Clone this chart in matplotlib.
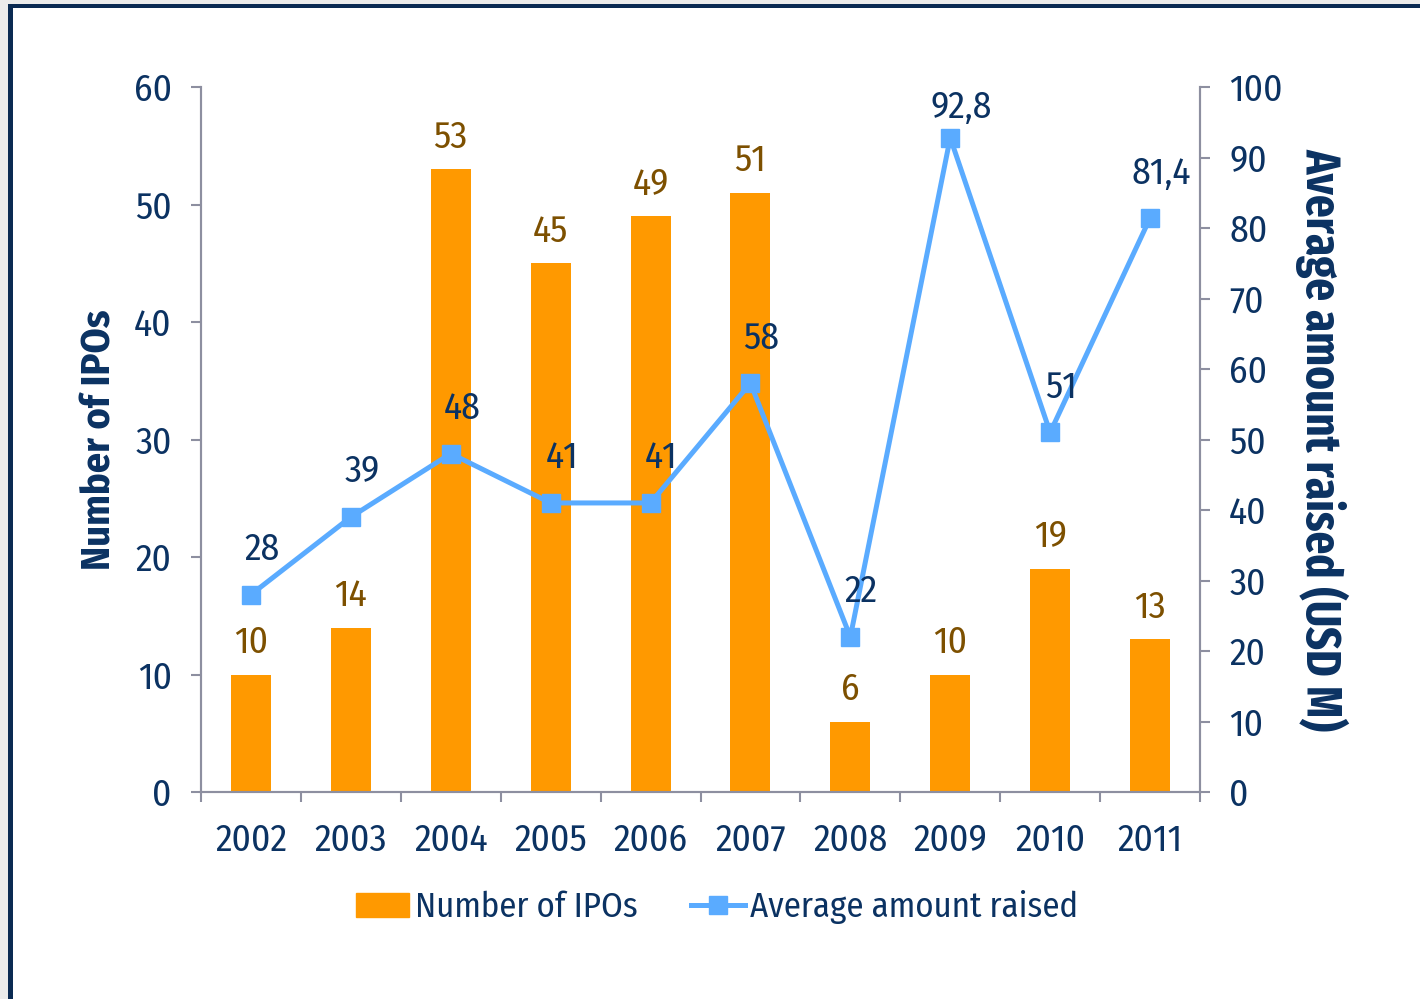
import matplotlib
matplotlib.use('Agg')
import matplotlib.pyplot as plt
from matplotlib.patches import Rectangle
from matplotlib.lines import Line2D
import numpy as np

years = ['2002', '2003', '2004', '2005', '2006', '2007', '2008', '2009', '2010', '2011']
ipos = [10, 14, 53, 45, 49, 51, 6, 10, 19, 13]
avg_raised = [28, 39, 48, 41, 41, 58, 22, 92.8, 51, 81.4]

navy = '#0b3262'
orange = '#ff9900'
blue = '#5aabff'
brown = '#7d5000'
grey = '#8d8fa0'

plt.rcParams['font.family'] = ['Fira Sans Condensed', 'DejaVu Sans']

fig = plt.figure(figsize=(14.2, 9.99), dpi=100)
fig.patch.set_facecolor('white')
W, H = 1420, 999
# outer frame: grey margin + navy border (left/top)
fig.add_artist(Rectangle((0, 0), 8 / W, 1, transform=fig.transFigure, color='#ebebeb', lw=0))
fig.add_artist(Rectangle((0, 1 - 4 / H), 1, 4 / H, transform=fig.transFigure, color='#ebebeb', lw=0))
fig.add_artist(Rectangle((8 / W, 0), 4.5 / W, 1 - 4 / H, transform=fig.transFigure, color='#0a2a52', lw=0))
fig.add_artist(Rectangle((8 / W, 1 - 7.5 / H), 1, 3.5 / H, transform=fig.transFigure, color='#0a2a52', lw=0))

ax = fig.add_axes([201 / W, 207 / H, 999 / W, 705 / H])
ax2 = ax.twinx()

x = np.arange(len(years))
ax.bar(x, ipos, width=0.4, color=orange, zorder=2)
ax.set_xlim(-0.5, len(years) - 0.5)
ax.set_ylim(0, 60)
ax.set_yticks(np.arange(0, 61, 10))
ax.set_xticks(x)
ax.set_xticklabels(years)
ax.set_xticks(np.arange(-0.5, len(years)), minor=True)

ax2.plot(x, avg_raised, color=blue, lw=3.6, marker='s', markersize=13, zorder=3)
ax2.set_ylim(0, 100)
ax2.set_yticks(np.arange(0, 101, 10))

for a in (ax, ax2):
    a.spines['top'].set_visible(False)
    for s in ('left', 'right', 'bottom'):
        a.spines[s].set_color(grey)
        a.spines[s].set_linewidth(1.5)

fs = 27
ax.tick_params(axis='y', colors=grey, labelcolor=navy, labelsize=fs, length=7, width=1.5, pad=14)
ax2.tick_params(axis='y', colors=grey, labelcolor=navy, labelsize=fs, length=7, width=1.5, pad=14)
ax.tick_params(axis='x', which='major', length=0, pad=22, labelcolor=navy, labelsize=fs)
ax.tick_params(axis='x', which='minor', length=7, width=1.5, color=grey)

for xi, v in zip(x, ipos):
    ax.annotate(str(v), (xi, v), xytext=(0, 32), textcoords='offset pixels',
                ha='center', va='center', fontsize=fs, color=brown)

for xi, v in zip(x, avg_raised):
    lab = str(v).replace('.', ',') if v != int(v) else str(int(v))
    # keep labels inside the plot area near the top, like the original
    dy = min(45, (100 - v) / 100 * 705 - 21)
    ax2.annotate(lab, (xi, v), xytext=(11, dy), textcoords='offset pixels',
                 ha='center', va='center', fontsize=fs, color=navy)

ax.set_ylabel('Number of IPOs', fontsize=29, fontweight='bold', color=navy, va='center')
ax.yaxis.set_label_coords(-101 / 999, 0.5)
ax2.set_ylabel('Average amount raised (USD M)', fontsize=35, fontweight='bold', color=navy,
               rotation=-90, va='center', family=['Fira Sans Extra Condensed', 'DejaVu Sans'])
ax2.yaxis.set_label_coords(1121 / 999, 0.5)

handles = [Rectangle((0, 0), 1, 1, color=orange),
           Line2D([0], [0], color=blue, lw=3.6, marker='s', markersize=13)]
leg = fig.legend(handles, ['Number of IPOs', 'Average amount raised'], loc='center',
                 bbox_to_anchor=(717 / W, 1 - 907 / H), ncol=2, frameon=False,
                 fontsize=25, handlelength=1.55, handletextpad=0.15, columnspacing=1.55)
for t in leg.get_texts():
    t.set_color(navy)

fig.savefig('out.png', dpi=100)
